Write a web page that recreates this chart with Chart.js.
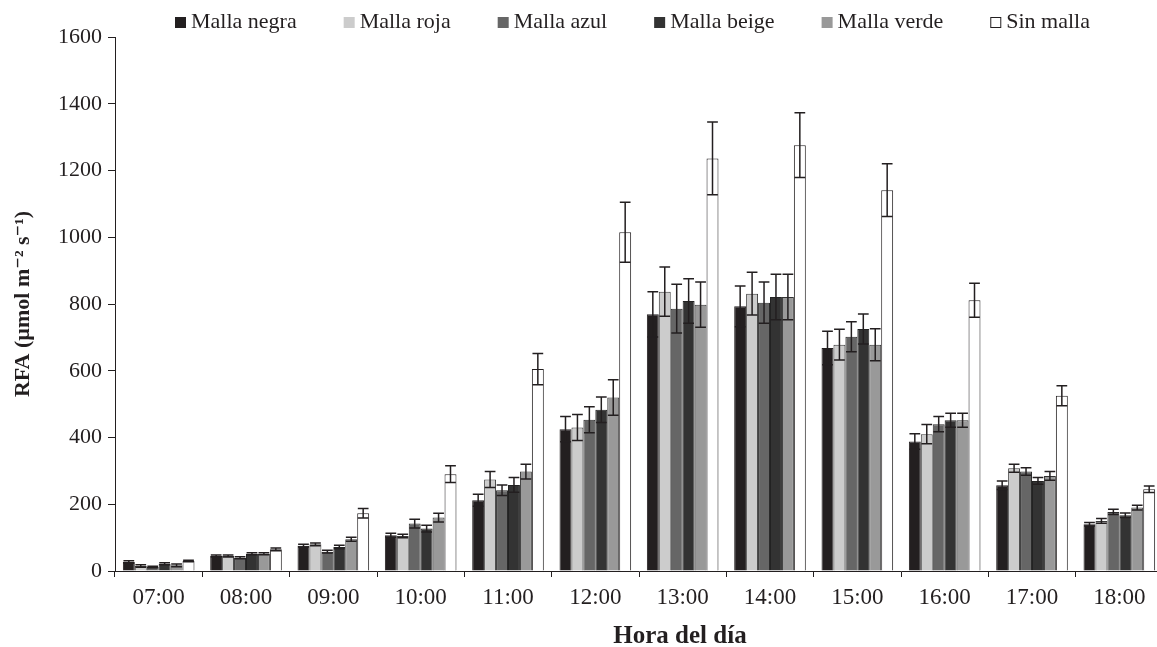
<!DOCTYPE html>
<html lang="es">
<head>
    <meta charset="UTF-8">
    <title>RFA por hora del día</title>
    <script src="https://cdn.jsdelivr.net/npm/chart.js"></script>
    <style>
        body {
            margin: 0;
            padding: 0;
            background: #fff;
            overflow: hidden;
        }
        canvas {
            display: block;
        }
    </style>
</head>
<body>
    <canvas id="rfaChart" width="1170" height="647"></canvas>

    <script>
        const hours = ['07:00', '08:00', '09:00', '10:00', '11:00', '12:00', '13:00', '14:00', '15:00', '16:00', '17:00', '18:00'];

        const mallaNegra = [27, 45, 76, 107, 212, 425, 769, 793, 668, 388, 257, 140];
        const mallaRoja  = [15, 45, 80, 105, 274, 430, 837, 831, 678, 410, 308, 150];
        const mallaAzul  = [12, 40, 58, 142, 242, 453, 786, 804, 702, 440, 298, 177];
        const mallaBeige = [22, 52, 72, 127, 258, 483, 809, 821, 725, 452, 270, 167];
        const mallaVerde = [17, 52, 95, 160, 298, 520, 798, 821, 678, 452, 285, 190];
        const sinMalla   = [30, 65, 173, 290, 605, 1015, 1236, 1276, 1141, 811, 525, 245];

        // error (+/-) for each series
        const errNegra = [4, 3, 4, 6, 18, 38, 68, 61, 50, 23, 13, 5];
        const errRoja  = [4, 3, 4, 5, 24, 39, 74, 64, 46, 29, 12, 7];
        const errAzul  = [2, 3, 4, 13, 16, 39, 73, 62, 45, 23, 11, 8];
        const errBeige = [3, 3, 5, 10, 22, 38, 67, 68, 45, 21, 10, 7];
        const errVerde = [4, 3, 6, 13, 22, 53, 68, 68, 48, 21, 13, 7];
        const errSin   = [2, 4, 14, 25, 47, 90, 109, 97, 79, 51, 30, 10];

        const yTicks = [0, 200, 400, 600, 800, 1000, 1200, 1400, 1600];

        const serif = '"Liberation Serif", "DejaVu Serif", serif';
        const ink = '#231f20';

        const series = [
            { label: 'Malla negra', data: mallaNegra, err: errNegra, fill: '#231f20', edge: '#231f20' },
            { label: 'Malla roja',  data: mallaRoja,  err: errRoja,  fill: '#cccccc', edge: '#3a3a3a' },
            { label: 'Malla azul',  data: mallaAzul,  err: errAzul,  fill: '#666666', edge: '#2a2a2a' },
            { label: 'Malla beige', data: mallaBeige, err: errBeige, fill: '#333333', edge: '#222222' },
            { label: 'Malla verde', data: mallaVerde, err: errVerde, fill: '#999999', edge: '#333333' },
            { label: 'Sin malla',   data: sinMalla,   err: errSin,   fill: '#ffffff', edge: '#231f20' }
        ];

        const errorBars = {
            id: 'errorBars',
            afterDatasetsDraw(chart) {
                const ctx = chart.ctx;
                const y = chart.scales.y;
                ctx.save();
                ctx.strokeStyle = ink;
                ctx.lineWidth = 1.5;
                chart.data.datasets.forEach((ds, i) => {
                    const meta = chart.getDatasetMeta(i);
                    meta.data.forEach((bar, j) => {
                        const { x, width } = bar.getProps(['x', 'width'], true);
                        const v = ds.data[j];
                        const e = ds.err[j];
                        const top = y.getPixelForValue(v + e);
                        const bot = y.getPixelForValue(Math.max(0, v - e));
                        const half = width * 0.45;
                        ctx.beginPath();
                        ctx.moveTo(x, top);
                        ctx.lineTo(x, bot);
                        ctx.moveTo(x - half, top);
                        ctx.lineTo(x + half, top);
                        ctx.moveTo(x - half, bot);
                        ctx.lineTo(x + half, bot);
                        ctx.stroke();
                    });
                });
                ctx.restore();
            }
        };

        const legendAndTitle = {
            id: 'legendAndTitle',
            afterDraw(chart) {
                const ctx = chart.ctx;
                ctx.save();
                ctx.font = '22px ' + serif;
                ctx.textBaseline = 'alphabetic';
                ctx.textAlign = 'left';
                let x = 175;
                const base = 28;
                series.forEach(s => {
                    ctx.fillStyle = s.fill;
                    ctx.fillRect(x, base - 11, 11, 11);
                    if (s.fill === '#ffffff') {
                        ctx.strokeStyle = ink;
                        ctx.lineWidth = 1;
                        ctx.strokeRect(x + 0.5, base - 10.5, 10, 10);
                    }
                    x += 11 + 5;
                    ctx.fillStyle = ink;
                    ctx.fillText(s.label, x, base);
                    x += ctx.measureText(s.label).width + 47;
                });

                ctx.font = 'bold 25px ' + serif;
                ctx.textAlign = 'center';
                ctx.textBaseline = 'alphabetic';
                ctx.fillText('Hora del día', 680, 643);
                ctx.restore();
            }
        };

        function draw() {
            new Chart(document.getElementById('rfaChart'), {
                type: 'bar',
                data: {
                    labels: hours,
                    datasets: series.map(s => ({
                        label: s.label,
                        data: s.data,
                        err: s.err,
                        backgroundColor: s.fill,
                        borderColor: s.edge,
                        borderWidth: 1,
                        barPercentage: 1.0,
                        categoryPercentage: 0.82
                    }))
                },
                options: {
                    responsive: false,
                    animation: false,
                    layout: { padding: { top: 37, right: 7, left: 0, bottom: 0 } },
                    plugins: {
                        legend: { display: false },
                        tooltip: { enabled: false }
                    },
                    scales: {
                        x: {
                            afterFit: scale => { scale.height = 76; },
                            grid: {
                                drawOnChartArea: false,
                                drawTicks: true,
                                tickLength: 6,
                                color: ink,
                                offset: true
                            },
                            border: { display: true, color: ink, width: 1 },
                            ticks: {
                                color: ink,
                                padding: 7,
                                font: { family: serif, size: 23 }
                            }
                        },
                        y: {
                            min: 0,
                            max: 1600,
                            afterFit: scale => { scale.width = 115; },
                            afterBuildTicks: scale => {
                                scale.ticks = yTicks.map(v => ({ value: v }));
                            },
                            grid: {
                                drawOnChartArea: false,
                                drawTicks: true,
                                tickLength: 7,
                                color: ink
                            },
                            border: { display: true, color: ink, width: 1 },
                            ticks: {
                                color: ink,
                                padding: 6,
                                font: { family: serif, size: 22 },
                                callback: v => String(v)
                            },
                            title: {
                                display: true,
                                text: 'RFA (µmol m⁻² s⁻¹)',
                                color: ink,
                                padding: { top: 10, bottom: 0 },
                                font: { family: serif, size: 22, weight: 'bold' }
                            }
                        }
                    }
                },
                plugins: [errorBars, legendAndTitle]
            });
        }

        Promise.all([
            document.fonts.load('22px "Liberation Serif"'),
            document.fonts.load('bold 22px "Liberation Serif"')
        ]).then(draw, draw);
    </script>
</body>
</html>
